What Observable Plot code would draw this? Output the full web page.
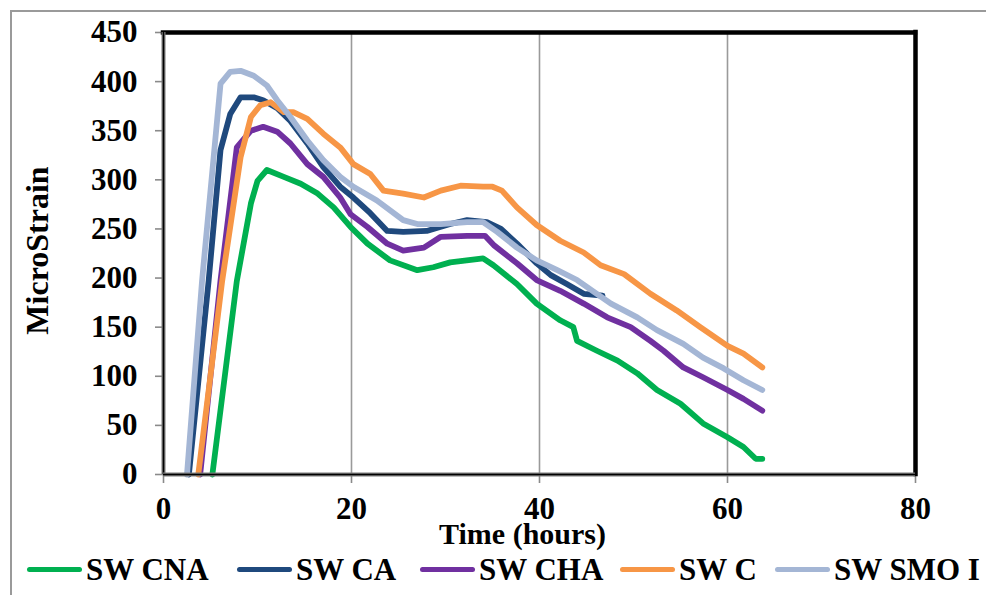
<!DOCTYPE html>
<html>
<head>
<meta charset="utf-8">
<script src="https://cdn.jsdelivr.net/npm/d3@7"></script>
<script src="https://cdn.jsdelivr.net/npm/@observablehq/plot@0.6"></script>
<style>
  html, body { margin: 0; padding: 0; background: #fff; }
  #wrap { position: relative; width: 986px; height: 595px; overflow: hidden; background: #fff; }
  #outer { position: absolute; left: 10px; top: 10px; width: 1200px; height: 1200px;
           border-left: 2px solid #9a9a9a; border-top: 2px solid #9a9a9a; box-sizing: border-box; }
  #chart { position: absolute; left: 0; top: 0; }
  #legend { position: absolute; left: 0; top: 547px; width: 986px; height: 45px;
            font-family: "Liberation Serif", "Times New Roman", serif; font-weight: bold; font-size: 31px;
            line-height: 34px; white-space: nowrap; color: #000; }
  .item { position: absolute; top: 0; height: 45px; display: flex; align-items: center; }
  .sw { width: 55px; height: 5px; border-radius: 3px; margin-right: 4px; }
</style>
</head>
<body>
<div id="wrap">
  <div id="outer"></div>
  <div id="chart"></div>
  <div id="legend"></div>
</div>
<script>
const seriesNames = ["SW CNA", "SW CA", "SW CHA", "SW C", "SW SMO I"];
const seriesColors = ["#00b050", "#1f497d", "#7030a0", "#f79646", "#a4b6d5"];
const xTicks = [0, 20, 40, 60, 80];
const yTicks = [0, 50, 100, 150, 200, 250, 300, 350, 400, 450];
const xLabel = "Time (hours)";
const yLabel = "MicroStrain";

// [hours, microstrain]
const swCNA = [[5.2,0],[7.8,197],[9.3,276],[10.0,299],[11.0,310],[12.8,303],[14.6,296],[16.4,286],[18.1,272],[19.9,252],[21.7,235],[24.1,218],[27.0,208],[28.7,211],[30.5,216],[34.0,220],[35.1,213],[37.6,194],[39.7,174],[42.2,157],[43.6,150],[44.0,136],[46.1,126],[48.3,116],[50.4,103],[52.5,86],[55.0,72],[57.4,52],[60.0,38],[61.7,28],[63.0,16],[63.7,16]];
const swCA = [[2.7,0],[4.8,197],[6.06,330],[7.1,367],[8.2,384],[9.6,384],[10.6,381],[12.1,373],[13.5,360],[15.3,337],[17.0,313],[18.8,293],[20.2,282],[22.0,266],[23.8,248],[25.5,247],[28.0,248],[30.5,255],[32.3,259],[34.4,257],[35.9,250],[37.6,235],[39.7,215],[41.2,203],[42.9,194],[44.7,184],[46.7,182]];
const swCHA = [[3.9,0],[6.06,197],[7.8,333],[9.3,350],[10.6,354],[12.1,349],[13.5,337],[15.3,316],[17.0,303],[18.8,282],[19.9,265],[21.7,252],[23.8,235],[25.5,228],[27.7,231],[29.5,242],[32.3,243],[34.2,243],[35.2,233],[37.6,215],[39.7,198],[42.2,187],[44.7,174],[47.2,160],[49.7,150],[51.8,136],[53.2,126],[55.3,109],[57.4,99],[60.0,86],[61.7,77],[63.7,65]];
const swC = [[3.7,0],[6.24,197],[8.2,323],[9.3,364],[10.3,376],[11.4,379],[12.8,369],[13.8,369],[15.3,362],[17.0,347],[18.8,333],[20.2,316],[22.0,306],[23.4,289],[25.5,286],[27.7,282],[29.5,289],[31.6,294],[34.0,293],[35.0,293],[36.0,289],[37.6,272],[39.7,254],[42.2,238],[44.7,226],[46.5,213],[49.0,204],[51.8,184],[54.6,167],[57.1,150],[60.0,131],[61.7,123],[63.7,109]];
const swSMO = [[2.5,0],[4.1,197],[6.07,398],[7.1,410],[8.2,411],[9.6,406],[11.0,396],[12.1,381],[13.5,364],[15.3,340],[17.0,320],[18.8,303],[20.2,293],[22.7,279],[25.5,259],[27.0,255],[29.5,255],[32.3,257],[34.0,257],[35.5,247],[37.6,231],[39.7,218],[41.9,208],[44.0,198],[46.1,184],[47.6,174],[50.4,160],[52.5,147],[55.3,133],[57.4,119],[59.6,108],[61.7,96],[63.7,86]];

const seriesData = [swCNA, swCA, swCHA, swC, swSMO];
const rows = seriesData.flatMap((arr, i) => arr.map(([t, v]) => ({series: seriesNames[i], t, v})));

const font = `"Liberation Serif", "Times New Roman", serif`;

const chart = Plot.plot({
  width: 986,
  height: 548,
  marginLeft: 163,
  marginRight: 71,
  marginTop: 32,
  marginBottom: 74,
  style: {fontFamily: font, fontSize: "31px", fontWeight: "bold", background: "transparent", overflow: "visible", color: "#000"},
  x: {domain: [0, 80]},
  y: {domain: [0, 450]},
  color: {domain: seriesNames, range: seriesColors},
  marks: [
    Plot.gridX({ticks: [20, 40, 60], stroke: "#9a9a9a", strokeOpacity: 1, strokeWidth: 1.6}),
    Plot.axisY({ticks: yTicks, tickSize: 8, tickPadding: 18, stroke: "#8a8a8a", strokeWidth: 1.6, fill: "#000", label: null, fontSize: 31}),
    Plot.axisX({ticks: xTicks, tickSize: 9, tickPadding: 13, stroke: "#8a8a8a", strokeWidth: 1.6, fill: "#000", label: null, fontSize: 31}),
    Plot.ruleY([450], {stroke: "#000", strokeWidth: 4.5, strokeLinecap: "square"}),
    Plot.ruleX([80], {stroke: "#000", strokeWidth: 4.5, strokeLinecap: "square"}),
    Plot.line(rows, {x: "t", y: "v", z: "series", stroke: "series", strokeWidth: 5.8, strokeLinejoin: "round", strokeLinecap: "round"}),
    Plot.ruleX([0], {stroke: "#7a7a7a", strokeWidth: 4}),
    Plot.ruleX([0], {stroke: "#000", strokeWidth: 1.5}),
    Plot.ruleY([0], {stroke: "#7a7a7a", strokeWidth: 4}),
    Plot.ruleY([0], {stroke: "#000", strokeWidth: 1.5}),
    Plot.text([xLabel], {text: d => d, frameAnchor: "bottom", textAnchor: "middle", lineAnchor: "middle", dx: -17, dy: 60, fontSize: 30, fontWeight: "bold", fill: "#000"}),
    Plot.text([yLabel], {text: d => d, frameAnchor: "left", textAnchor: "middle", lineAnchor: "middle", dx: -126, dy: -3, rotate: -90, fontSize: 32, fontWeight: "bold", fill: "#000"})
  ]
});
document.getElementById("chart").appendChild(chart);

const legendLeft = [27, 237, 420, 620, 775];
const legend = document.getElementById("legend");
seriesNames.forEach((name, i) => {
  const item = document.createElement("div");
  item.className = "item";
  item.style.left = legendLeft[i] + "px";
  const sw = document.createElement("span");
  sw.className = "sw";
  sw.style.background = seriesColors[i];
  const label = document.createElement("span");
  label.textContent = name;
  item.appendChild(sw);
  item.appendChild(label);
  legend.appendChild(item);
});
</script>
</body>
</html>
